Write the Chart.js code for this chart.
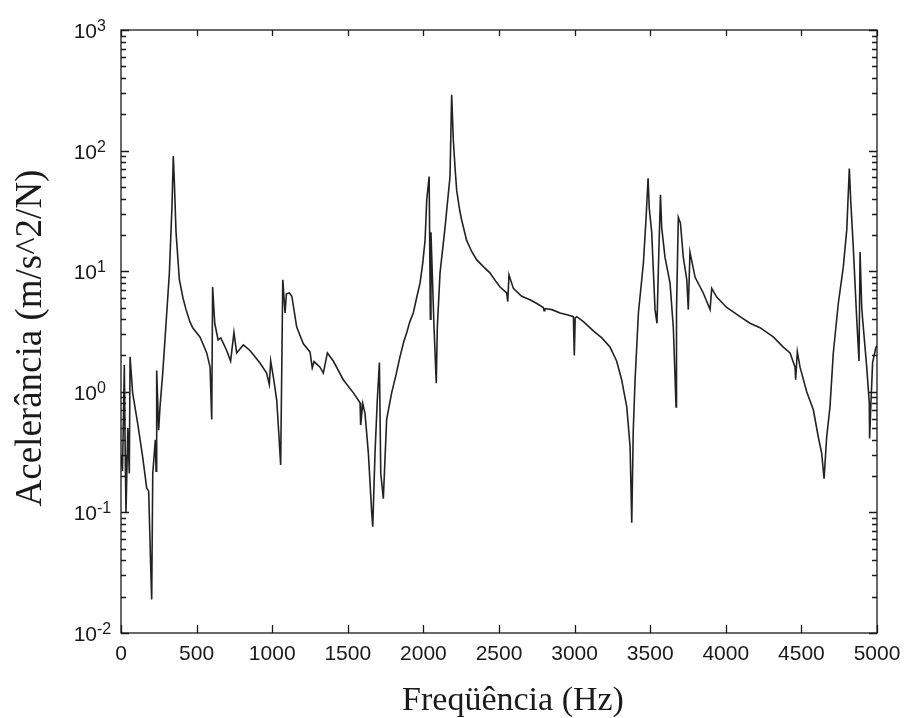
<!DOCTYPE html>
<html>
<head>
<meta charset="utf-8">
<script src="https://cdn.jsdelivr.net/npm/chart.js@4.4.1/dist/chart.umd.min.js"></script>
<style>
  html, body { margin: 0; padding: 0; background: #fff; }
  #wrap { width: 908px; height: 718px; }
</style>
</head>
<body>
<div id="wrap"><canvas id="frf"></canvas></div>
<script>
// frequency response
const freqHz = [
  0, 10, 22, 28, 33, 45, 55, 60, 77, 110, 143, 170, 183, 198, 203, 210, 227, 232, 236, 249,
  258, 276, 298, 320, 337, 346, 353, 364, 386, 410, 430, 456, 474, 522, 551, 567, 589, 600, 606, 620, 642, 660,
  699, 725, 747, 765, 809, 853, 919, 963, 981, 990, 1008, 1030, 1041, 1056, 1070, 1085, 1094, 1113, 1130, 1162,
  1206, 1250, 1265, 1277, 1316, 1338, 1365, 1404, 1470, 1537, 1581, 1585, 1599, 1614, 1636, 1658, 1665, 1680, 1695, 1709,
  1718, 1735, 1757, 1790, 1820, 1845, 1870, 1890, 1910, 1933, 1955, 1978, 1995, 2011, 2022, 2038, 2046, 2050, 2070, 2085,
  2092, 2110, 2143, 2176, 2187, 2198, 2210, 2220, 2240, 2253, 2286, 2320, 2353, 2400, 2440, 2480, 2507, 2551, 2558, 2566,
  2595, 2650, 2705, 2750, 2793, 2798, 2803, 2850, 2904, 2950, 2992, 2998, 3004, 3015, 3060, 3124, 3180, 3234, 3278, 3311,
  3345, 3367, 3378, 3388, 3400, 3422, 3455, 3472, 3486, 3494, 3510, 3521, 3532, 3545, 3556, 3568, 3576, 3598, 3631, 3653,
  3671, 3674, 3686, 3700, 3719, 3742, 3752, 3763, 3797, 3851, 3896, 3907, 3940, 4006, 4094, 4160, 4226, 4314, 4380, 4425,
  4458, 4462, 4473, 4491, 4535, 4579, 4612, 4634, 4650, 4667, 4689, 4711, 4744, 4777, 4800, 4817, 4826, 4843, 4866, 4881,
  4888, 4899, 4905, 4932, 4949, 4951, 4960, 4971, 4993, 5000
];
const accel = [
  0.30, 0.22, 1.67, 0.30, 0.10, 0.50, 0.21, 1.95, 0.98, 0.55, 0.29, 0.159, 0.15, 0.03, 0.019, 0.21, 0.40, 0.22, 1.5, 0.48,
  0.75, 1.43, 3.7, 9.7, 34, 90, 54, 21, 8.5, 6.0, 4.8, 3.8, 3.4, 2.85, 2.35, 2.1, 1.6, 0.59, 7.4, 3.7, 2.7, 2.8,
  2.2, 1.8, 3.1, 2.1, 2.45, 2.2, 1.73, 1.43, 1.15, 1.8, 1.32, 0.85, 0.51, 0.247, 8.5, 4.5, 6.5, 6.6, 6.2, 3.44,
  2.5, 2.14, 1.58, 1.78, 1.6, 1.43, 2.1, 1.8, 1.26, 0.98, 0.81, 0.53, 0.8, 0.66, 0.31, 0.1, 0.076, 0.31, 0.85, 1.75,
  0.21, 0.13, 0.59, 0.98, 1.4, 1.95, 2.6, 3.1, 3.8, 4.5, 6.0, 8, 11.5, 18, 39, 61, 4, 21, 3.5, 1.18,
  3.4, 9.7, 23, 61, 290, 122, 70, 47, 32, 26.6, 18, 14.5, 12.4, 10.8, 9.7, 8.2, 7.4, 6.6, 5.6, 9.3,
  7.2, 6.2, 5.8, 5.4, 5.0, 4.7, 4.9, 4.8, 4.5, 4.35, 4.2, 2.0, 4.1, 4.2, 3.8, 3.2, 2.8, 2.35, 1.8, 1.26,
  0.75, 0.35, 0.082, 0.48, 1.26, 4.5, 11.7, 26.6, 59, 33, 21, 10, 4.8, 3.7, 13, 43, 23, 13, 8, 3.4,
  0.75, 4.8, 28, 25, 13, 8.5, 4.8, 14.4, 8.9, 6.6, 4.8, 7.2, 6.1, 5.0, 4.2, 3.7, 3.4, 2.85, 2.35, 2.1,
  1.6, 1.26, 2.15, 1.6, 1.0, 0.71, 0.42, 0.31, 0.19, 0.42, 0.75, 2.1, 5.4, 10.8, 22, 71, 39, 15.9, 4, 1.8,
  14.4, 5, 4, 1.6, 0.81, 0.41, 0.81, 1.75, 2.35, 2.4
];
const xTicks = [0, 500, 1000, 1500, 2000, 2500, 3000, 3500, 4000, 4500, 5000];
const yExponents = [-2, -1, 0, 1, 2, 3];
const xTitle = 'Freqüência (Hz)';
const yTitle = 'Acelerância (m/s^2/N)';

const ink = '#1a1a1a';

// MATLAB-like box, inward ticks and labels, drawn from the chart's own scales
const matlabAxes = {
  id: 'matlabAxes',
  afterDatasetsDraw(chart) {
    const { ctx, chartArea: a, scales } = chart;
    const xs = scales.x, ys = scales.y;
    ctx.save();
    ctx.strokeStyle = ink;
    ctx.lineWidth = 1.3;
    ctx.strokeRect(a.left, a.top, a.right - a.left, a.bottom - a.top);

    ctx.beginPath();
    xTicks.forEach(v => {
      const px = Math.round(xs.getPixelForValue(v)) + 0.5;
      ctx.moveTo(px, a.bottom); ctx.lineTo(px, a.bottom - 8);
      ctx.moveTo(px, a.top); ctx.lineTo(px, a.top + 6);
    });
    yExponents.forEach(e => {
      const last = e === yExponents[yExponents.length - 1];
      for (let m = 1; m <= (last ? 1 : 9); m++) {
        const py = Math.round(ys.getPixelForValue(m * Math.pow(10, e))) + 0.5;
        const len = m === 1 ? 8 : 5;
        ctx.moveTo(a.left, py); ctx.lineTo(a.left + len, py);
        ctx.moveTo(a.right, py); ctx.lineTo(a.right - len, py);
      }
    });
    ctx.stroke();

    ctx.fillStyle = ink;
    ctx.font = '21px "Liberation Sans", Arial, sans-serif';
    ctx.textAlign = 'center';
    ctx.textBaseline = 'middle';
    xTicks.forEach(v => {
      ctx.fillText(String(v), xs.getPixelForValue(v), a.bottom + 21);
    });

    yExponents.forEach(e => {
      const py = ys.getPixelForValue(Math.pow(10, e));
      ctx.font = '21px "Liberation Sans", Arial, sans-serif';
      ctx.textAlign = 'right';
      ctx.textBaseline = 'alphabetic';
      ctx.fillText('10', 97, py + 8);
      ctx.font = '16px "Liberation Sans", Arial, sans-serif';
      ctx.textAlign = 'left';
      ctx.fillText(String(e), 97, py + 1);
    });

    ctx.font = '34px "Liberation Serif", "Times New Roman", serif';
    ctx.textAlign = 'center';
    ctx.textBaseline = 'alphabetic';
    ctx.fillText(xTitle, (a.left + a.right) / 2 + 14, 710);

    ctx.font = '37px "Liberation Serif", "Times New Roman", serif';
    ctx.translate(41, 338);
    ctx.rotate(-Math.PI / 2);
    ctx.fillText(yTitle, 0, 0);
    ctx.restore();
  }
};

new Chart(document.getElementById('frf'), {
  type: 'line',
  data: {
    datasets: [{
      label: 'FRF',
      data: freqHz.map((f, i) => ({ x: f, y: accel[i] })),
      borderColor: '#222',
      borderWidth: 1.6,
      pointRadius: 0,
      tension: 0,
      fill: false
    }]
  },
  options: {
    responsive: true,
    maintainAspectRatio: false,
    animation: false,
    layout: { padding: { left: 121, right: 31, top: 30, bottom: 85 } },
    plugins: { legend: { display: false }, tooltip: { enabled: false } },
    scales: {
      x: { type: 'linear', min: 0, max: 5000, display: false },
      y: { type: 'logarithmic', min: 0.01, max: 1000, display: false }
    }
  },
  plugins: [matlabAxes]
});
</script>
</body>
</html>
